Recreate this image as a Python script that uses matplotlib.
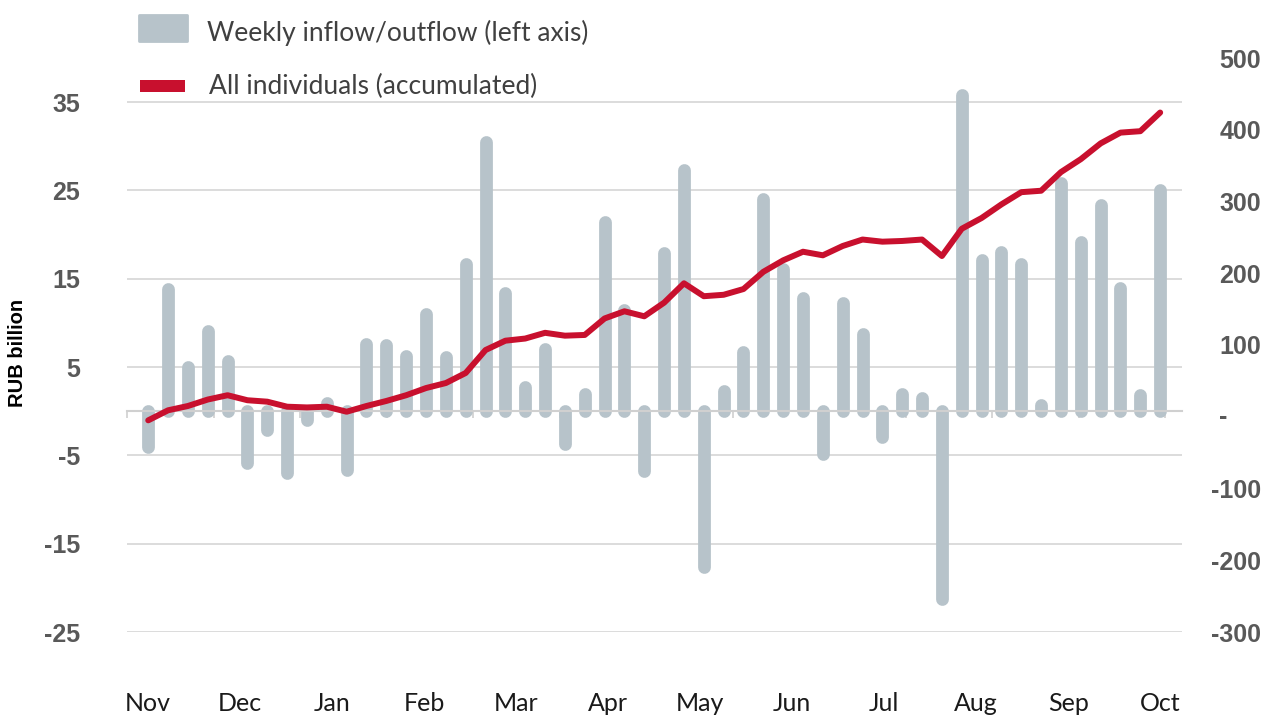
import numpy as np
import matplotlib
matplotlib.use('Agg')
import matplotlib.pyplot as plt
import matplotlib.transforms as mtransforms
from matplotlib.patches import Rectangle

plt.rcParams['font.family'] = ['Lato', 'DejaVu Sans']
bold_font = ['Liberation Sans', 'DejaVu Sans']

# weekly flows, RUB billion (left axis)
weekly = [-4.1, 13.8, 5.0, 9.1, 5.7, -5.9, -2.1, -7.0, -1.0, 0.9,
          -6.7, 7.6, 7.5, 6.3, 11.0, 6.1, 16.7, 30.5, 13.4, 2.8,
          7.1, -3.7, 2.0, 21.4, 11.5, -6.8, 17.9, 27.3, -17.6, 2.3,
          6.7, 24.0, 16.1, 12.8, -4.8, 12.2, 8.7, -2.9, 2.0, 1.5,
          -21.3, 35.8, 17.1, 18.0, 16.7, 0.7, 25.8, 19.2, 23.3, 13.9,
          1.8, 25.0]
# accumulated, all individuals (right axis)
accumulated = [-5, 9, 15, 24, 30, 23, 21, 14, 13, 14,
               7, 15, 22, 30, 40, 47, 61, 93, 106, 109,
               117, 113, 114, 137, 147, 140, 159, 186, 168, 170,
               178, 202, 218, 230, 225, 238, 247, 244, 245, 247,
               224, 262, 277, 296, 313, 315, 341, 359, 381, 396,
               398, 424]
months = ['Nov', 'Dec', 'Jan', 'Feb', 'Mar', 'Apr', 'May', 'Jun',
          'Jul', 'Aug', 'Sep', 'Oct']
left_ticks = [-25, -15, -5, 5, 15, 25, 35]
right_ticks = [-300, -200, -100, 0, 100, 200, 300, 400, 500]

W, H = 1265, 717
bar_col = '#B7C3CA'
red = '#C8102E'
grid_col = '#D9D9D9'
lab_col = '#595959'

fig = plt.figure(figsize=(W / 100, H / 100), dpi=100)
ax = fig.add_axes([127 / W, 1 - 632 / H, (1182 - 127) / W, (632 - 58) / H])
ax2 = ax.twinx()

x = np.arange(len(weekly))
bars = ax.vlines(x, 0, weekly, colors=bar_col, linewidth=9.2, zorder=2)
bars.set_capstyle('round')

ax2.plot(x, accumulated, color=red, lw=4.3, solid_capstyle='round',
         solid_joinstyle='round', zorder=3)

ax.set_xlim(-1.07, 52.1)
ax.set_ylim(-25, 40)
ax2.set_ylim(-300, 500)

# left axis
ax.set_yticks(left_ticks)
ax.set_yticklabels([str(v) for v in left_ticks], fontweight='bold',
                   family=bold_font)
ax.tick_params(axis='y', length=0, pad=34, labelsize=18, labelcolor=lab_col)
ax.yaxis.grid(True, color=grid_col, lw=1.3)
ax.set_axisbelow(True)

# category axis at zero
for s in ['top', 'left', 'right']:
    ax.spines[s].set_visible(False)
ax.spines['bottom'].set_position(('data', 0))
ax.spines['bottom'].set_color('#D0D0D0')
ax.spines['bottom'].set_linewidth(1.5)
ax.set_xticks(np.linspace(-1.07, 51.25, 13))
ax.set_xticklabels([])
ax.tick_params(axis='x', length=5, width=1.2, color='#D0D0D0', direction='out')

trans = mtransforms.blended_transform_factory(ax.transData, ax.transAxes)
for pos, m in zip(np.linspace(0, 51, 12), months):
    ax.text(pos, -0.124, m, transform=trans, ha='center', va='center',
            fontsize=18, color='#1a1a1a')

# right axis
for s in ax2.spines.values():
    s.set_visible(False)
ax2.set_yticks(right_ticks)
ax2.set_yticklabels(['' if v == 0 else str(v) for v in right_ticks],
                    fontweight='bold', family=bold_font)
ax2.tick_params(axis='y', length=0, pad=57, labelsize=18, labelcolor=lab_col)
for lbl in ax2.get_yticklabels():
    lbl.set_ha('right')
trans2 = mtransforms.blended_transform_factory(ax2.transAxes, ax2.transData)
ax2.text((1223 - 127) / (1182 - 127), 0, '-', transform=trans2, ha='center',
         va='center', fontsize=18, fontweight='bold', family=bold_font,
         color=lab_col)

fig.text(18 / W, 1 - 353 / H, 'RUB billion', rotation=90, ha='center',
         va='center', fontsize=14.5, fontweight='bold', family=bold_font,
         color='black')

# legend
fig.patches.append(Rectangle((139 / W, 1 - 41 / H), 48 / W, 26 / H,
                             transform=fig.transFigure, facecolor=bar_col,
                             edgecolor=bar_col, lw=2, joinstyle='round'))
fig.patches.append(Rectangle((140 / W, 1 - 92 / H), 45 / W, 12 / H,
                             transform=fig.transFigure, facecolor=red,
                             edgecolor='none'))
fig.text(207 / W, 1 - 33 / H, 'Weekly inflow/outflow (left axis)', va='center',
         fontsize=19, color='#404040')
fig.text(209 / W, 1 - 86 / H, 'All individuals (accumulated)', va='center',
         fontsize=19, color='#404040')

fig.savefig('out.png', dpi=100)
